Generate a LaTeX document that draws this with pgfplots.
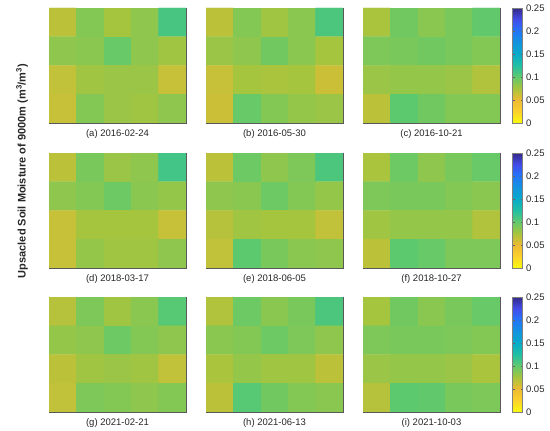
\documentclass[border=0pt]{standalone}
\usepackage{pgfplots}
\usepackage{pgfplotstable}
\usepackage{fontspec}
\setmainfont{Liberation Sans}
\pgfplotsset{compat=1.18}

\pgfplotstableread{
x y a b c d e f g h i
0 3 0.068 0.068 0.074 0.068 0.068 0.074 0.070 0.072 0.076
1 3 0.088 0.088 0.094 0.092 0.096 0.096 0.090 0.096 0.094
2 3 0.076 0.078 0.086 0.080 0.084 0.084 0.078 0.086 0.086
3 3 0.084 0.086 0.092 0.084 0.090 0.092 0.086 0.092 0.092
4 3 0.110 0.108 0.100 0.112 0.108 0.098 0.104 0.108 0.098
0 2 0.084 0.080 0.090 0.084 0.084 0.090 0.082 0.086 0.090
1 2 0.086 0.084 0.092 0.088 0.086 0.092 0.084 0.088 0.092
2 2 0.098 0.094 0.094 0.096 0.096 0.092 0.096 0.096 0.092
3 2 0.084 0.086 0.092 0.086 0.088 0.088 0.088 0.090 0.090
4 2 0.078 0.076 0.088 0.082 0.082 0.086 0.084 0.084 0.088
0 1 0.066 0.064 0.080 0.064 0.070 0.078 0.068 0.074 0.080
1 1 0.078 0.076 0.082 0.076 0.078 0.082 0.078 0.082 0.082
2 1 0.080 0.074 0.082 0.076 0.076 0.082 0.080 0.078 0.082
3 1 0.080 0.076 0.080 0.076 0.076 0.082 0.078 0.078 0.080
4 1 0.064 0.062 0.072 0.064 0.066 0.072 0.066 0.068 0.074
0 0 0.064 0.062 0.068 0.064 0.066 0.068 0.066 0.068 0.070
1 0 0.088 0.098 0.102 0.082 0.102 0.102 0.090 0.104 0.102
2 0 0.080 0.088 0.094 0.078 0.092 0.098 0.088 0.094 0.100
3 0 0.078 0.082 0.088 0.078 0.086 0.090 0.084 0.088 0.092
4 0 0.084 0.080 0.088 0.084 0.084 0.090 0.088 0.086 0.090
}\smdata

\pgfplotsset{
  colormap={parularev}{
    rgb=(0.976,0.983,0.054)
    rgb=(0.985,0.820,0.170)
    rgb=(0.930,0.730,0.200)
    rgb=(0.660,0.770,0.240)
    rgb=(0.380,0.790,0.420)
    rgb=(0.130,0.750,0.640)
    rgb=(0.030,0.670,0.790)
    rgb=(0.070,0.580,0.870)
    rgb=(0.140,0.460,0.970)
    rgb=(0.260,0.300,0.920)
    rgb=(0.208,0.166,0.529)
  },
  panel/.style={
    scale only axis, width=137pt, height=115pt,
    xmin=-0.5, xmax=4.5, ymin=-0.5, ymax=3.5,
    point meta min=0, point meta max=0.25,
    colormap name=parularev,
    ticks=none,
    axis line style={black!65, line width=0.6pt},
    xlabel style={font=\fontsize{9.5}{11}\selectfont, text=black!85,
      at={(axis description cs:0.5,0)}, anchor=north, yshift=-3pt},
  },
  cbar/.style={
    colorbar,
    colorbar style={
      width=10pt,
      at={(parent axis.north east)}, anchor=north west, xshift=4pt,
      ytick={0,0.05,0.1,0.15,0.2,0.25},
      yticklabels={0,0.05,0.1,0.15,0.2,0.25},
      yticklabel style={font=\fontsize{9.5}{11}\selectfont, text=black!85},
      major tick length=2pt,
      tick style={black!60},
      axis line style={black!50},
    },
  },
}

\begin{document}
\begin{tikzpicture}
\useasboundingbox (0,0) rectangle (550pt,-431pt);
% row 1
\begin{axis}[panel, at={(49pt,-8pt)}, anchor=north west, xlabel={(a) 2016-02-24}]
\addplot[matrix plot*, mesh/cols=5, point meta=explicit] table[x=x, y=y, meta=a] {\smdata};
\end{axis}
\begin{axis}[panel, at={(206pt,-8pt)}, anchor=north west, xlabel={(b) 2016-05-30}]
\addplot[matrix plot*, mesh/cols=5, point meta=explicit] table[x=x, y=y, meta=b] {\smdata};
\end{axis}
\begin{axis}[panel, cbar, at={(363pt,-8pt)}, anchor=north west, xlabel={(c) 2016-10-21}]
\addplot[matrix plot*, mesh/cols=5, point meta=explicit] table[x=x, y=y, meta=c] {\smdata};
\end{axis}
% row 2
\begin{axis}[panel, at={(49pt,-153pt)}, anchor=north west, xlabel={(d) 2018-03-17}]
\addplot[matrix plot*, mesh/cols=5, point meta=explicit] table[x=x, y=y, meta=d] {\smdata};
\end{axis}
\begin{axis}[panel, at={(206pt,-153pt)}, anchor=north west, xlabel={(e) 2018-06-05}]
\addplot[matrix plot*, mesh/cols=5, point meta=explicit] table[x=x, y=y, meta=e] {\smdata};
\end{axis}
\begin{axis}[panel, cbar, at={(363pt,-153pt)}, anchor=north west, xlabel={(f) 2018-10-27}]
\addplot[matrix plot*, mesh/cols=5, point meta=explicit] table[x=x, y=y, meta=f] {\smdata};
\end{axis}
% row 3
\begin{axis}[panel, at={(49pt,-297pt)}, anchor=north west, xlabel={(g) 2021-02-21}]
\addplot[matrix plot*, mesh/cols=5, point meta=explicit] table[x=x, y=y, meta=g] {\smdata};
\end{axis}
\begin{axis}[panel, at={(206pt,-297pt)}, anchor=north west, xlabel={(h) 2021-06-13}]
\addplot[matrix plot*, mesh/cols=5, point meta=explicit] table[x=x, y=y, meta=h] {\smdata};
\end{axis}
\begin{axis}[panel, cbar, at={(363pt,-297pt)}, anchor=north west, xlabel={(i) 2021-10-03}]
\addplot[matrix plot*, mesh/cols=5, point meta=explicit] table[x=x, y=y, meta=i] {\smdata};
\end{axis}
\node[rotate=90, font=\bfseries\fontsize{11}{13}\selectfont, text=black!85] at (22pt,-171pt)
  {Upsacled Soil Moisture of 9000m (m\textsuperscript{3}/m\textsuperscript{3})};
\end{tikzpicture}
\end{document}
